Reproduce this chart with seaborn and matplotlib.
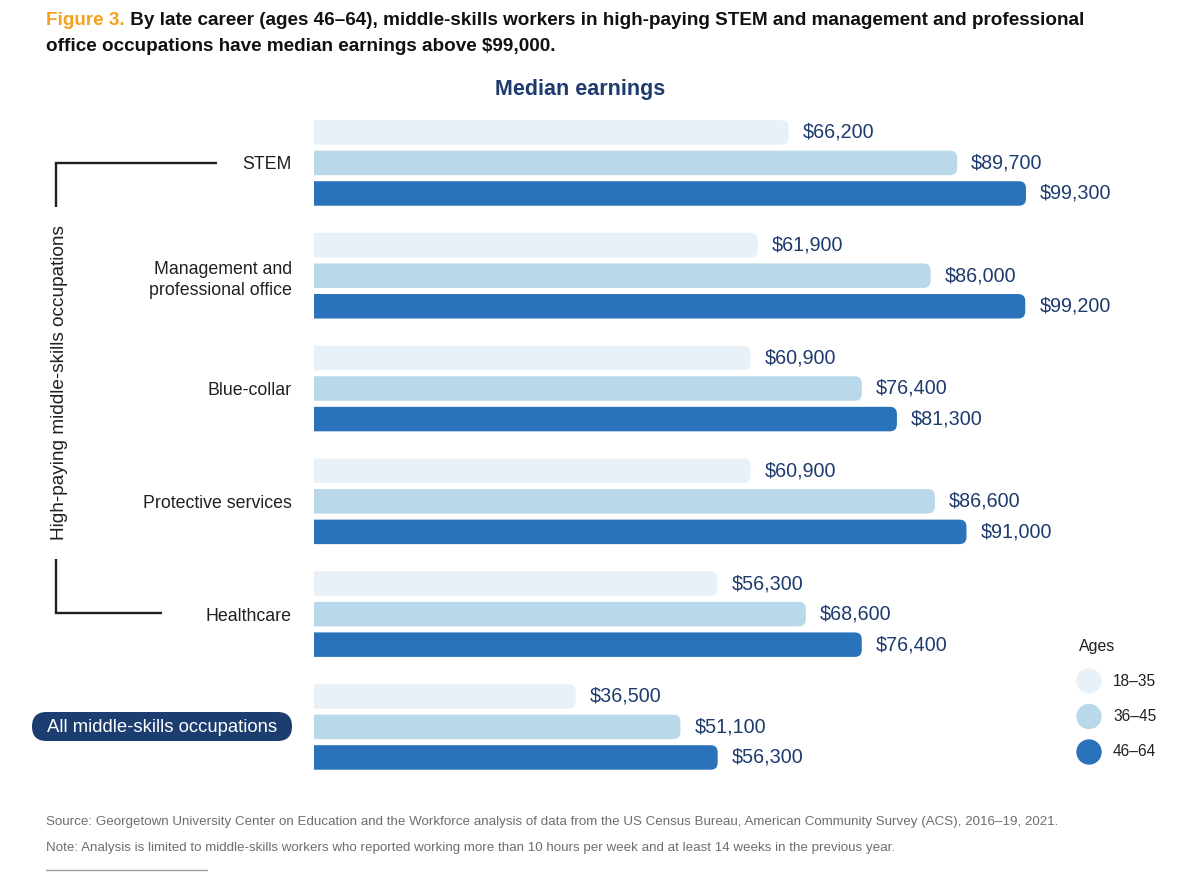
import numpy as np
import pandas as pd
import matplotlib
matplotlib.use("Agg")
import matplotlib.pyplot as plt
from matplotlib.patches import FancyBboxPatch, Circle
import seaborn as sns

# ---------------- data ----------------
categories = ["STEM", "Management and\nprofessional office", "Blue-collar",
              "Protective services", "Healthcare", "All middle-skills occupations"]
ages = ["18–35", "36–45", "46–64"]
earn_18_35 = [66200, 61900, 60900, 60900, 56300, 36500]
earn_36_45 = [89700, 86000, 76400, 86600, 68600, 51100]
earn_46_64 = [99300, 99200, 81300, 91000, 76400, 56300]
age_colors = ["#E8F1F8", "#B9D8EA", "#2A72B9"]

title_tag = "Figure 3."
title_l1 = " By late career (ages 46–64), middle-skills workers in high-paying STEM and management and professional"
title_l2 = "office occupations have median earnings above $99,000."
chart_title = "Median earnings"
bracket_label = "High-paying middle-skills occupations"
source_txt = ("Source: Georgetown University Center on Education and the Workforce analysis of data from the US "
              "Census Bureau, American Community Survey (ACS), 2016–19, 2021.")
note_txt = ("Note: Analysis is limited to middle-skills workers who reported working more than 10 hours per week "
            "and at least 14 weeks in the previous year.")

df = pd.DataFrame({
    "category": np.repeat(categories, 3),
    "age": ages * len(categories),
    "value": np.ravel(np.column_stack([earn_18_35, earn_36_45, earn_46_64])),
})

# ---------------- style ----------------
sns.set_style("white")
plt.rcParams["font.family"] = ["Liberation Sans", "DejaVu Sans"]

W, H = 1199, 885
fig = plt.figure(figsize=(W / 100, H / 100), dpi=100)

PX_PER_USD = 0.00717
PITCH = 112.8
left_px, top_px = 314, 162.9 - PITCH / 2
ax_w_px = W - left_px
ax_h_px = PITCH * 6
ax = fig.add_axes([left_px / W, 1 - (top_px + ax_h_px) / H, ax_w_px / W, ax_h_px / H])

sns.barplot(data=df, y="category", x="value", hue="age", hue_order=ages,
            order=categories, palette=age_colors, orient="h", width=0.813,
            dodge=True, legend=False, ax=ax, errorbar=None, saturation=1)

ax.set_xlim(0, ax_w_px / PX_PER_USD)
ax.set_ylim(5.5, -0.5)
for s in ax.spines.values():
    s.set_visible(False)
ax.set_xticks([])
ax.set_xlabel("")
ax.set_ylabel("")

navy = "#1E3B6E"
bar_h = 24.5 / PITCH
r_px = 7
r_x = r_px / PX_PER_USD
aspect = (r_px / PITCH) / r_x
rects = list(ax.patches)
for p in rects:
    w = p.get_width()
    if not np.isfinite(w) or w == 0:
        continue
    yc = p.get_y() + p.get_height() / 2
    col = p.get_facecolor()
    p.set_visible(False)
    fb = FancyBboxPatch((-3 * r_x, yc - bar_h / 2), w + 3 * r_x, bar_h,
                        boxstyle=f"round,pad=0,rounding_size={r_x}",
                        mutation_aspect=aspect, fc=col, ec="none")
    ax.add_patch(fb)
    ax.text(w + 14 / PX_PER_USD, yc, f"${w:,.0f}", va="center", ha="left",
            fontsize=14.2, color=navy)

ax.set_yticks(range(len(categories)))
ax.set_yticklabels(categories[:-1] + [""], fontsize=12.8, color="#231F20",
                   linespacing=1.35)
ax.tick_params(axis="y", length=0, pad=22 * 0.72)

# ---------------- overlay (pixel coordinates) ----------------
ov = fig.add_axes([0, 0, 1, 1])
ov.set_xlim(0, W)
ov.set_ylim(H, 0)
ov.axis("off")

tfs = 13.6
t1 = ov.text(46, 20.5, title_tag, color="#F4A11D", fontsize=tfs, weight="bold",
             va="center", ha="left")
ov.annotate(title_l1, xy=(1, 0), xycoords=t1, va="bottom", ha="left",
            fontsize=tfs, weight="bold", color="#111111")
ov.text(46, 46.5, title_l2, fontsize=tfs, weight="bold", color="#111111",
        va="center", ha="left")

ov.text(580, 89, chart_title, fontsize=15.5, weight="bold", color=navy,
        ha="center", va="center")

# bracket
lc = "#231F20"
ov.plot([217, 56, 56], [163, 163, 207], color=lc, lw=1.7, solid_capstyle="butt",
        solid_joinstyle="miter")
ov.plot([56, 56, 162], [559, 613, 613], color=lc, lw=1.7, solid_capstyle="butt",
        solid_joinstyle="miter")
ov.text(59, 383, bracket_label, rotation=90, ha="center", va="center",
        fontsize=13.7, color=lc)

# pill label
pill = FancyBboxPatch((32, 712), 260, 29, boxstyle="round,pad=0,rounding_size=14.5",
                      fc="#1B3D6F", ec="none")
ov.add_patch(pill)
ov.text(162, 727, categories[-1], color="white", fontsize=13.3, ha="center", va="center")

# legend
ov.text(1079, 647, "Ages", fontsize=11.4, color=lc, ha="left", va="center")
for i, (lab, c) in enumerate(zip(ages, age_colors)):
    yy = 681 + 35.5 * i
    ov.add_patch(Circle((1089, yy), 12.7, fc=c, ec="none"))
    ov.text(1113, yy, lab, fontsize=11.2, color=lc, ha="left", va="center")

# footer
gray = "#6D6E71"
ov.text(46, 822, source_txt, fontsize=9.65, color=gray, ha="left", va="center")
ov.text(46, 848, note_txt, fontsize=9.65, color=gray, ha="left", va="center")
ov.plot([46, 207], [870, 870], color="#9A9A9A", lw=1)

fig.savefig("out.png", dpi=100, facecolor="white")
